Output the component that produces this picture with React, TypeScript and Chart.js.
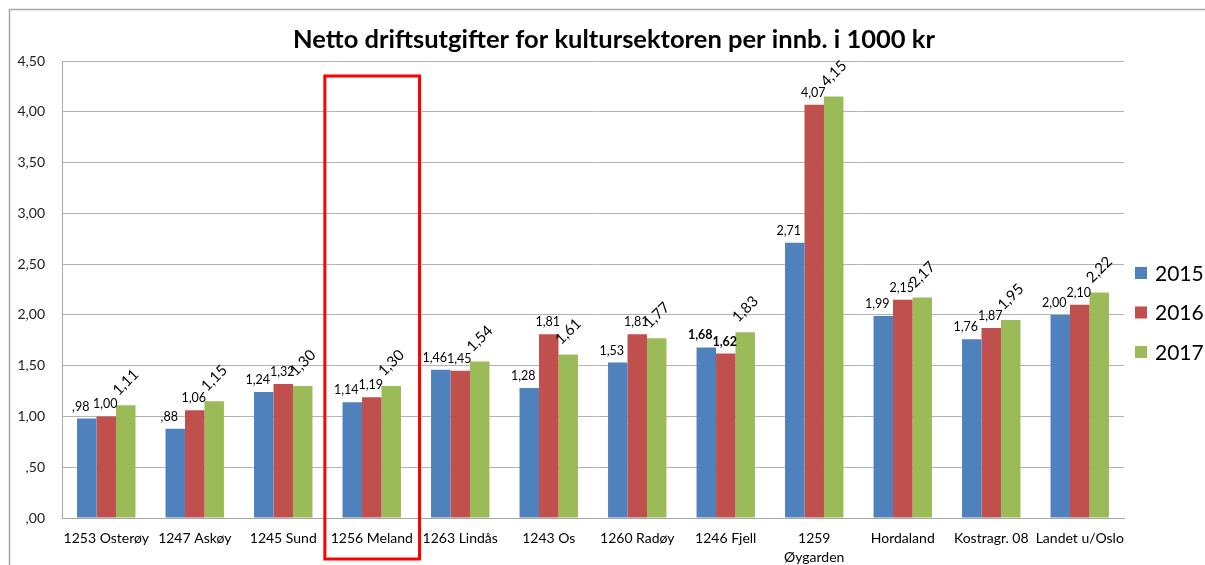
import React, { useEffect, useRef } from "react";
import { Chart, registerables } from "chart.js";

Chart.register(...registerables);

const categories: (string | string[])[] = [
  "1253 Osterøy",
  "1247 Askøy",
  "1245 Sund",
  "1256 Meland",
  "1263 Lindås",
  "1243 Os",
  "1260 Radøy",
  "1246 Fjell",
  ["1259", "Øygarden"],
  "Hordaland",
  "Kostragr. 08",
  "Landet u/Oslo",
];

const values2015 = [0.98, 0.88, 1.24, 1.14, 1.46, 1.28, 1.53, 1.68, 2.71, 1.99, 1.76, 2.0];
const values2016 = [1.0, 1.06, 1.32, 1.19, 1.45, 1.81, 1.81, 1.62, 4.07, 2.15, 1.87, 2.1];
const values2017 = [1.11, 1.15, 1.3, 1.3, 1.54, 1.61, 1.77, 1.83, 4.15, 2.17, 1.95, 2.22];

const seriesNames = ["2015", "2016", "2017"];
const seriesColors = ["#4F81BD", "#C0504D", "#9BBB59"];

const titleText = "Netto driftsutgifter for kultursektoren per innb. i 1000 kr";
const highlightIndex = 3;
const boldLabels: Record<string, number[]> = { "0": [7], "1": [7] };

const FONT = "Lato, 'Open Sans', 'DejaVu Sans', sans-serif";

function fmt(v: number): string {
  const s = v.toFixed(2).replace(".", ",");
  return s.startsWith("0,") ? s.slice(1) : s;
}

const decorPlugin = {
  id: "decor",
  beforeDraw(chart: any) {
    const ctx = chart.ctx;
    ctx.save();
    ctx.fillStyle = "#ffffff";
    ctx.fillRect(0, 0, chart.width, chart.height);
    ctx.strokeStyle = "#a6a6a6";
    ctx.lineWidth = 1.5;
    ctx.beginPath();
    ctx.moveTo(9.5, chart.height);
    ctx.lineTo(9.5, 9.5);
    ctx.lineTo(chart.width, 9.5);
    ctx.stroke();
    ctx.restore();
  },
  afterDatasetsDraw(chart: any) {
    const ctx = chart.ctx;
    ctx.save();
    chart.data.datasets.forEach((ds: any, di: number) => {
      const meta = chart.getDatasetMeta(di);
      meta.data.forEach((el: any, i: number) => {
        const v = ds.data[i] as number;
        const txt = fmt(v);
        const bold = (boldLabels[String(di)] || []).includes(i);
        ctx.fillStyle = "#000000";
        if (di === 2) {
          ctx.save();
          ctx.translate(el.x, el.y - 23);
          ctx.rotate(-Math.PI / 4);
          ctx.font = `15px ${FONT}`;
          ctx.textAlign = "center";
          ctx.textBaseline = "middle";
          ctx.fillText(txt, 0, 0);
          ctx.restore();
        } else {
          ctx.font = `${bold ? "bold " : ""}12.5px ${FONT}`;
          ctx.textAlign = "center";
          ctx.textBaseline = "middle";
          const dx = di === 0 ? -6 : -1;
          ctx.fillText(txt, el.x + dx, el.y - 12);
        }
      });
    });
    ctx.restore();
  },
  afterDraw(chart: any) {
    const ctx = chart.ctx;
    const area = chart.chartArea;
    const xs = chart.scales.x;
    ctx.save();
    // title
    ctx.fillStyle = "#000000";
    ctx.font = `bold 25.5px ${FONT}`;
    ctx.textAlign = "center";
    ctx.textBaseline = "middle";
    ctx.fillText(titleText, 614, 40);
    // highlight rectangle
    const cw = (area.right - area.left) / categories.length;
    const cx = xs.getPixelForValue(highlightIndex);
    ctx.strokeStyle = "#ff0000";
    ctx.lineWidth = 3;
    ctx.strokeRect(cx - cw * 0.53, area.top + 15, cw * 1.07, chart.height - 6 - (area.top + 15));
    // legend
    chart.data.datasets.forEach((ds: any, di: number) => {
      const y = 273 + di * 39.5;
      ctx.fillStyle = ds.backgroundColor;
      ctx.fillRect(1135, y - 6, 12, 12);
      ctx.fillStyle = "#000000";
      ctx.font = `21px ${FONT}`;
      ctx.textAlign = "left";
      ctx.textBaseline = "middle";
      ctx.fillText(ds.label, 1155, y + 1);
    });
    ctx.restore();
  },
};

export default function App() {
  const ref = useRef<HTMLCanvasElement | null>(null);
  useEffect(() => {
    if (!ref.current) return;
    const chart = new Chart(ref.current, {
      type: "bar",
      data: {
        labels: categories,
        datasets: [values2015, values2016, values2017].map((d, i) => ({
          label: seriesNames[i],
          data: d,
          backgroundColor: seriesColors[i],
          borderWidth: 0,
          categoryPercentage: 0.66,
          barPercentage: 1.0,
        })),
      },
      options: {
        responsive: false,
        animation: false,
        devicePixelRatio: 1,
        layout: { padding: { top: 61, right: 81, left: 0, bottom: 0 } },
        plugins: {
          legend: { display: false },
          title: { display: false },
          tooltip: { enabled: false },
        },
        scales: {
          x: {
            grid: { display: false, drawTicks: false },
            border: { display: true, color: "#a6a6a6", width: 1 },
            ticks: {
              color: "#000000",
              font: { family: FONT, size: 14, lineHeight: 1.35 },
              padding: 11,
              maxRotation: 0,
              autoSkip: false,
            },
            afterFit(scale: any) {
              scale.height = 47;
            },
          },
          y: {
            min: 0,
            max: 4.5,
            grid: { color: "#b3b3b3", drawTicks: false, lineWidth: 1 },
            border: { display: true, color: "#a6a6a6", width: 1 },
            ticks: {
              stepSize: 0.5,
              color: "#222222",
              padding: 17,
              font: { family: FONT, size: 14 },
              callback: (v: any) => fmt(Number(v)),
            },
            afterFit(scale: any) {
              scale.width = 62;
            },
          },
        },
      },
      plugins: [decorPlugin],
    });
    return () => chart.destroy();
  }, []);
  return (
    <div style={{ position: "fixed", left: 0, top: 0, width: 1205, height: 565, background: "#fff" }}>
      <canvas ref={ref} width={1205} height={565} style={{ display: "block", width: 1205, height: 565 }} />
    </div>
  );
}
